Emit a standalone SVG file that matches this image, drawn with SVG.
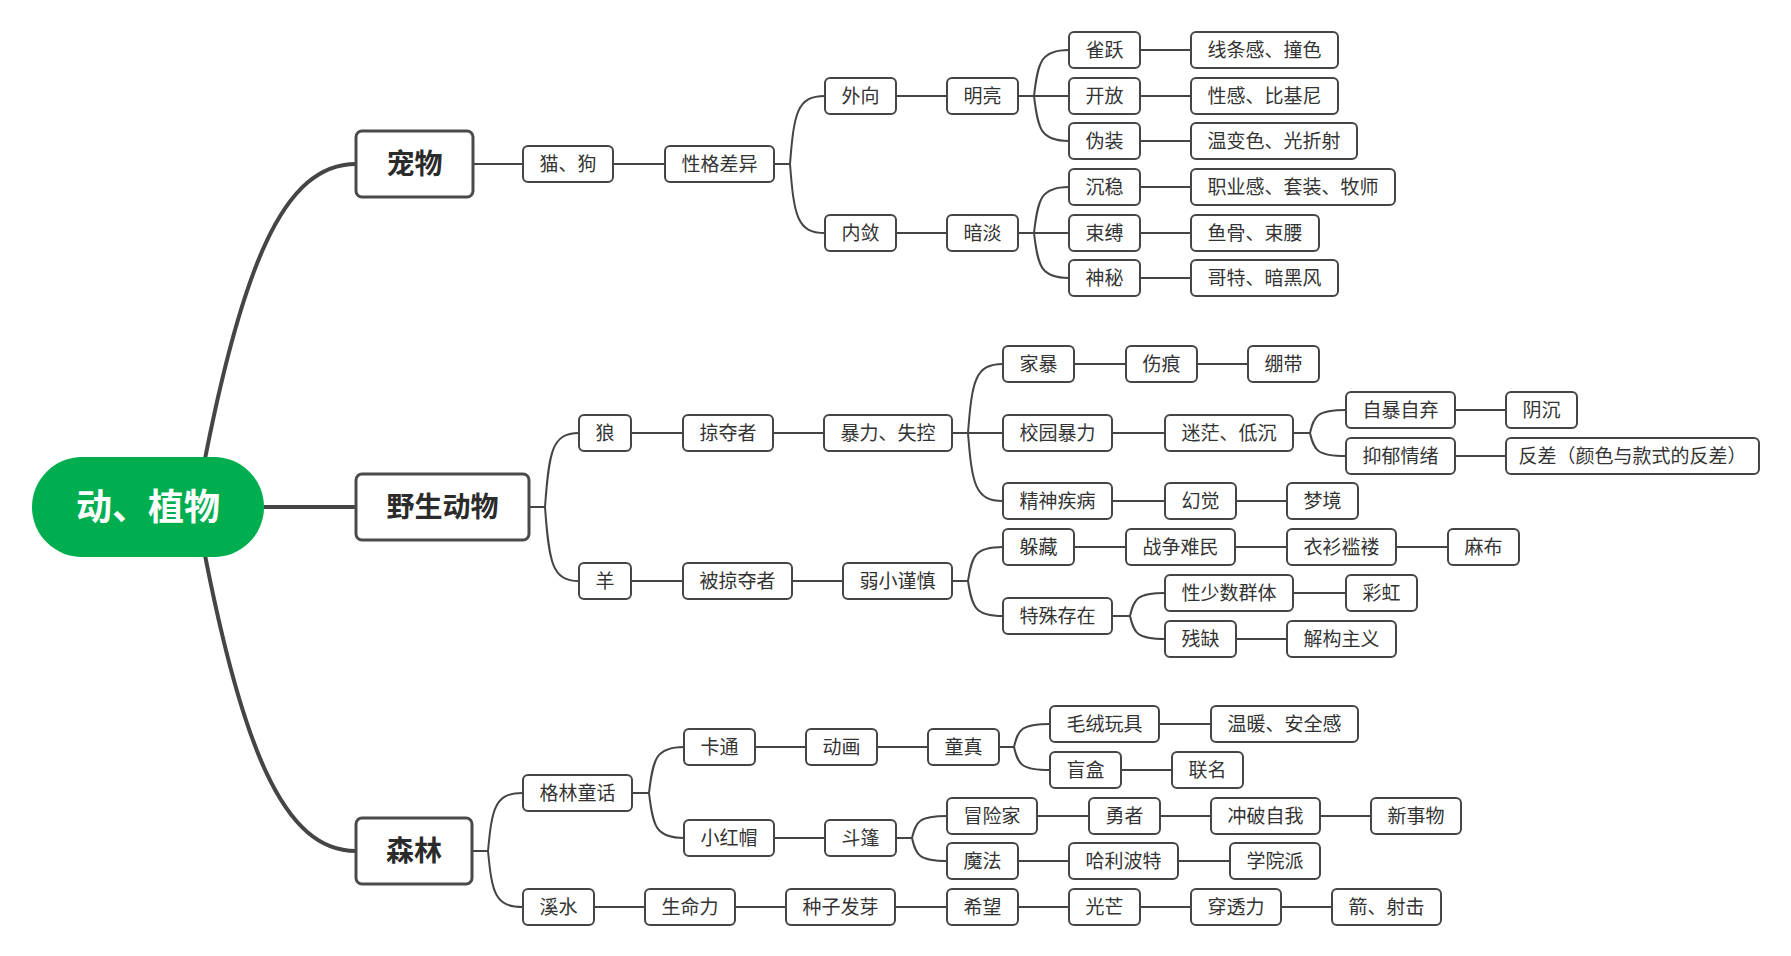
<svg xmlns="http://www.w3.org/2000/svg" width="1791" height="956" viewBox="0 0 1791 956">
<style>
.bg{fill:#ffffff}
.c path{fill:none;stroke:#454545;stroke-width:2}
.c path.t{stroke-width:4}
.n rect{fill:#ffffff;stroke:#454545;stroke-width:2}
.n text{font-family:"Noto Sans CJK SC","Noto Sans",sans-serif;font-size:19px;fill:#333333;text-anchor:middle}
.m rect{fill:#ffffff;stroke:#4a4a4a;stroke-width:3}
.m text{font-family:"Noto Sans CJK SC","Noto Sans",sans-serif;font-size:28px;font-weight:bold;fill:#2b2b2b;text-anchor:middle}
.r rect{fill:#00AE4F}
.r text{font-family:"Noto Sans CJK SC","Noto Sans",sans-serif;font-size:36px;font-weight:bold;fill:#ffffff;text-anchor:middle}
</style>
<rect class="bg" x="0" y="0" width="1791" height="956"/>
<g id="connectors" class="c">
<path class="t" d="M196,507 C240,260 285,164 356,164"/>
<path class="t" d="M196,507 C240,754 285,851 356,851"/>
<path class="t" d="M264,507 H356"/>
<path d="M473,164 H523"/>
<path d="M613,164 H665"/>
<path d="M774,164 H790"/>
<path d="M790,164 C794,113 797,96 825,96"/>
<path d="M790,164 C794,216 797,233 825,233"/>
<path d="M896,96 H947"/>
<path d="M1018,96 H1069"/>
<path d="M1034,96 C1038,61.5 1041,50 1069,50"/>
<path d="M1034,96 C1038,129.75 1041,141 1069,141"/>
<path d="M1140,50 H1191"/>
<path d="M1140,96 H1191"/>
<path d="M1140,141 H1191"/>
<path d="M896,233 H947"/>
<path d="M1018,233 H1069"/>
<path d="M1034,233 C1038,198.5 1041,187 1069,187"/>
<path d="M1034,233 C1038,266.75 1041,278 1069,278"/>
<path d="M1140,187 H1191"/>
<path d="M1140,233 H1191"/>
<path d="M1140,278 H1191"/>
<path d="M529,507 H545"/>
<path d="M545,507 C549,451.5 552,433 579,433"/>
<path d="M545,507 C549,562.5 552,581 579,581"/>
<path d="M631,433 H683"/>
<path d="M773,433 H824"/>
<path d="M952,433 H1003"/>
<path d="M968,433 C972,381 975,364 1003,364"/>
<path d="M968,433 C972,484 975,501 1003,501"/>
<path d="M1074,364 H1126"/>
<path d="M1197,364 H1248"/>
<path d="M1112,433 H1165"/>
<path d="M1293,433 H1310"/>
<path d="M1310,433 C1314,415.75 1317,410 1346,410"/>
<path d="M1310,433 C1314,450.25 1317,456 1346,456"/>
<path d="M1455,410 H1506"/>
<path d="M1455,456 H1506"/>
<path d="M1112,501 H1165"/>
<path d="M1236,501 H1287"/>
<path d="M631,581 H683"/>
<path d="M792,581 H843"/>
<path d="M952,581 H968"/>
<path d="M968,581 C972,555.5 975,547 1003,547"/>
<path d="M968,581 C972,607.25 975,616 1003,616"/>
<path d="M1074,547 H1126"/>
<path d="M1235,547 H1287"/>
<path d="M1396,547 H1448"/>
<path d="M1112,616 H1130"/>
<path d="M1130,616 C1134,598.75 1137,593 1165,593"/>
<path d="M1130,616 C1134,633.25 1137,639 1165,639"/>
<path d="M1293,593 H1346"/>
<path d="M1236,639 H1287"/>
<path d="M472,851 H488"/>
<path d="M488,851 C492,807.5 495,793 523,793"/>
<path d="M488,851 C492,893 495,907 523,907"/>
<path d="M632,793 H649"/>
<path d="M649,793 C653,758.5 656,747 684,747"/>
<path d="M649,793 C653,826.75 656,838 684,838"/>
<path d="M755,747 H806"/>
<path d="M877,747 H928"/>
<path d="M999,747 H1014"/>
<path d="M1014,747 C1018,729.75 1021,724 1050,724"/>
<path d="M1014,747 C1018,764.25 1021,770 1050,770"/>
<path d="M1159,724 H1211"/>
<path d="M1121,770 H1172"/>
<path d="M774,838 H825"/>
<path d="M896,838 H912"/>
<path d="M912,838 C916,821.5 919,816 947,816"/>
<path d="M912,838 C916,855.25 919,861 947,861"/>
<path d="M1037,816 H1089"/>
<path d="M1160,816 H1211"/>
<path d="M1320,816 H1371"/>
<path d="M1018,861 H1069"/>
<path d="M1178,861 H1230"/>
<path d="M594,907 H645"/>
<path d="M735,907 H786"/>
<path d="M895,907 H947"/>
<path d="M1018,907 H1069"/>
<path d="M1140,907 H1191"/>
<path d="M1281,907 H1332"/>
</g>
<g id="root" class="r"><rect x="32" y="457" width="232" height="100" rx="50"/><text x="148" y="520">动、植物</text></g>
<g id="pet" class="m"><rect x="356" y="131" width="117" height="66" rx="6"/><text x="414.5" y="174">宠物</text></g>
<g id="wild" class="m"><rect x="356" y="474" width="173" height="66" rx="6"/><text x="442.5" y="517">野生动物</text></g>
<g id="forest" class="m"><rect x="356" y="818" width="116" height="66" rx="6"/><text x="414" y="861">森林</text></g>
<g id="n1" class="n"><rect x="523" y="146" width="90" height="36" rx="5"/><text x="568" y="171">猫、狗</text></g>
<g id="n2" class="n"><rect x="665" y="146" width="109" height="36" rx="5"/><text x="719.5" y="171">性格差异</text></g>
<g id="n3" class="n"><rect x="825" y="78" width="71" height="36" rx="5"/><text x="860.5" y="103">外向</text></g>
<g id="n4" class="n"><rect x="947" y="78" width="71" height="36" rx="5"/><text x="982.5" y="103">明亮</text></g>
<g id="n5" class="n"><rect x="1069" y="32" width="71" height="36" rx="5"/><text x="1104.5" y="57">雀跃</text></g>
<g id="n6" class="n"><rect x="1191" y="32" width="147" height="36" rx="5"/><text x="1264.5" y="57">线条感、撞色</text></g>
<g id="n7" class="n"><rect x="1069" y="78" width="71" height="36" rx="5"/><text x="1104.5" y="103">开放</text></g>
<g id="n8" class="n"><rect x="1191" y="78" width="147" height="36" rx="5"/><text x="1264.5" y="103">性感、比基尼</text></g>
<g id="n9" class="n"><rect x="1069" y="123" width="71" height="36" rx="5"/><text x="1104.5" y="148">伪装</text></g>
<g id="n10" class="n"><rect x="1191" y="123" width="166" height="36" rx="5"/><text x="1274" y="148">温变色、光折射</text></g>
<g id="n11" class="n"><rect x="825" y="215" width="71" height="36" rx="5"/><text x="860.5" y="240">内敛</text></g>
<g id="n12" class="n"><rect x="947" y="215" width="71" height="36" rx="5"/><text x="982.5" y="240">暗淡</text></g>
<g id="n13" class="n"><rect x="1069" y="169" width="71" height="36" rx="5"/><text x="1104.5" y="194">沉稳</text></g>
<g id="n14" class="n"><rect x="1191" y="169" width="204" height="36" rx="5"/><text x="1293" y="194">职业感、套装、牧师</text></g>
<g id="n15" class="n"><rect x="1069" y="215" width="71" height="36" rx="5"/><text x="1104.5" y="240">束缚</text></g>
<g id="n16" class="n"><rect x="1191" y="215" width="128" height="36" rx="5"/><text x="1255" y="240">鱼骨、束腰</text></g>
<g id="n17" class="n"><rect x="1069" y="260" width="71" height="36" rx="5"/><text x="1104.5" y="285">神秘</text></g>
<g id="n18" class="n"><rect x="1191" y="260" width="147" height="36" rx="5"/><text x="1264.5" y="285">哥特、暗黑风</text></g>
<g id="n19" class="n"><rect x="579" y="415" width="52" height="36" rx="5"/><text x="605" y="440">狼</text></g>
<g id="n20" class="n"><rect x="683" y="415" width="90" height="36" rx="5"/><text x="728" y="440">掠夺者</text></g>
<g id="n21" class="n"><rect x="824" y="415" width="128" height="36" rx="5"/><text x="888" y="440">暴力、失控</text></g>
<g id="n22" class="n"><rect x="1003" y="346" width="71" height="36" rx="5"/><text x="1038.5" y="371">家暴</text></g>
<g id="n23" class="n"><rect x="1126" y="346" width="71" height="36" rx="5"/><text x="1161.5" y="371">伤痕</text></g>
<g id="n24" class="n"><rect x="1248" y="346" width="71" height="36" rx="5"/><text x="1283.5" y="371">绷带</text></g>
<g id="n25" class="n"><rect x="1003" y="415" width="109" height="36" rx="5"/><text x="1057.5" y="440">校园暴力</text></g>
<g id="n26" class="n"><rect x="1165" y="415" width="128" height="36" rx="5"/><text x="1229" y="440">迷茫、低沉</text></g>
<g id="n27" class="n"><rect x="1346" y="392" width="109" height="36" rx="5"/><text x="1400.5" y="417">自暴自弃</text></g>
<g id="n28" class="n"><rect x="1506" y="392" width="71" height="36" rx="5"/><text x="1541.5" y="417">阴沉</text></g>
<g id="n29" class="n"><rect x="1346" y="438" width="109" height="36" rx="5"/><text x="1400.5" y="463">抑郁情绪</text></g>
<g id="n30" class="n"><rect x="1506" y="438" width="253" height="36" rx="5"/><text x="1632.5" y="463">反差（颜色与款式的反差）</text></g>
<g id="n31" class="n"><rect x="1003" y="483" width="109" height="36" rx="5"/><text x="1057.5" y="508">精神疾病</text></g>
<g id="n32" class="n"><rect x="1165" y="483" width="71" height="36" rx="5"/><text x="1200.5" y="508">幻觉</text></g>
<g id="n33" class="n"><rect x="1287" y="483" width="71" height="36" rx="5"/><text x="1322.5" y="508">梦境</text></g>
<g id="n34" class="n"><rect x="579" y="563" width="52" height="36" rx="5"/><text x="605" y="588">羊</text></g>
<g id="n35" class="n"><rect x="683" y="563" width="109" height="36" rx="5"/><text x="737.5" y="588">被掠夺者</text></g>
<g id="n36" class="n"><rect x="843" y="563" width="109" height="36" rx="5"/><text x="897.5" y="588">弱小谨慎</text></g>
<g id="n37" class="n"><rect x="1003" y="529" width="71" height="36" rx="5"/><text x="1038.5" y="554">躲藏</text></g>
<g id="n38" class="n"><rect x="1126" y="529" width="109" height="36" rx="5"/><text x="1180.5" y="554">战争难民</text></g>
<g id="n39" class="n"><rect x="1287" y="529" width="109" height="36" rx="5"/><text x="1341.5" y="554">衣衫褴褛</text></g>
<g id="n40" class="n"><rect x="1448" y="529" width="71" height="36" rx="5"/><text x="1483.5" y="554">麻布</text></g>
<g id="n41" class="n"><rect x="1003" y="598" width="109" height="36" rx="5"/><text x="1057.5" y="623">特殊存在</text></g>
<g id="n42" class="n"><rect x="1165" y="575" width="128" height="36" rx="5"/><text x="1229" y="600">性少数群体</text></g>
<g id="n43" class="n"><rect x="1346" y="575" width="71" height="36" rx="5"/><text x="1381.5" y="600">彩虹</text></g>
<g id="n44" class="n"><rect x="1165" y="621" width="71" height="36" rx="5"/><text x="1200.5" y="646">残缺</text></g>
<g id="n45" class="n"><rect x="1287" y="621" width="109" height="36" rx="5"/><text x="1341.5" y="646">解构主义</text></g>
<g id="n46" class="n"><rect x="523" y="775" width="109" height="36" rx="5"/><text x="577.5" y="800">格林童话</text></g>
<g id="n47" class="n"><rect x="684" y="729" width="71" height="36" rx="5"/><text x="719.5" y="754">卡通</text></g>
<g id="n48" class="n"><rect x="806" y="729" width="71" height="36" rx="5"/><text x="841.5" y="754">动画</text></g>
<g id="n49" class="n"><rect x="928" y="729" width="71" height="36" rx="5"/><text x="963.5" y="754">童真</text></g>
<g id="n50" class="n"><rect x="1050" y="706" width="109" height="36" rx="5"/><text x="1104.5" y="731">毛绒玩具</text></g>
<g id="n51" class="n"><rect x="1211" y="706" width="147" height="36" rx="5"/><text x="1284.5" y="731">温暖、安全感</text></g>
<g id="n52" class="n"><rect x="1050" y="752" width="71" height="36" rx="5"/><text x="1085.5" y="777">盲盒</text></g>
<g id="n53" class="n"><rect x="1172" y="752" width="71" height="36" rx="5"/><text x="1207.5" y="777">联名</text></g>
<g id="n54" class="n"><rect x="684" y="820" width="90" height="36" rx="5"/><text x="729" y="845">小红帽</text></g>
<g id="n55" class="n"><rect x="825" y="820" width="71" height="36" rx="5"/><text x="860.5" y="845">斗篷</text></g>
<g id="n56" class="n"><rect x="947" y="798" width="90" height="36" rx="5"/><text x="992" y="823">冒险家</text></g>
<g id="n57" class="n"><rect x="1089" y="798" width="71" height="36" rx="5"/><text x="1124.5" y="823">勇者</text></g>
<g id="n58" class="n"><rect x="1211" y="798" width="109" height="36" rx="5"/><text x="1265.5" y="823">冲破自我</text></g>
<g id="n59" class="n"><rect x="1371" y="798" width="90" height="36" rx="5"/><text x="1416" y="823">新事物</text></g>
<g id="n60" class="n"><rect x="947" y="843" width="71" height="36" rx="5"/><text x="982.5" y="868">魔法</text></g>
<g id="n61" class="n"><rect x="1069" y="843" width="109" height="36" rx="5"/><text x="1123.5" y="868">哈利波特</text></g>
<g id="n62" class="n"><rect x="1230" y="843" width="90" height="36" rx="5"/><text x="1275" y="868">学院派</text></g>
<g id="n63" class="n"><rect x="523" y="889" width="71" height="36" rx="5"/><text x="558.5" y="914">溪水</text></g>
<g id="n64" class="n"><rect x="645" y="889" width="90" height="36" rx="5"/><text x="690" y="914">生命力</text></g>
<g id="n65" class="n"><rect x="786" y="889" width="109" height="36" rx="5"/><text x="840.5" y="914">种子发芽</text></g>
<g id="n66" class="n"><rect x="947" y="889" width="71" height="36" rx="5"/><text x="982.5" y="914">希望</text></g>
<g id="n67" class="n"><rect x="1069" y="889" width="71" height="36" rx="5"/><text x="1104.5" y="914">光芒</text></g>
<g id="n68" class="n"><rect x="1191" y="889" width="90" height="36" rx="5"/><text x="1236" y="914">穿透力</text></g>
<g id="n69" class="n"><rect x="1332" y="889" width="109" height="36" rx="5"/><text x="1386.5" y="914">箭、射击</text></g>
</svg>
